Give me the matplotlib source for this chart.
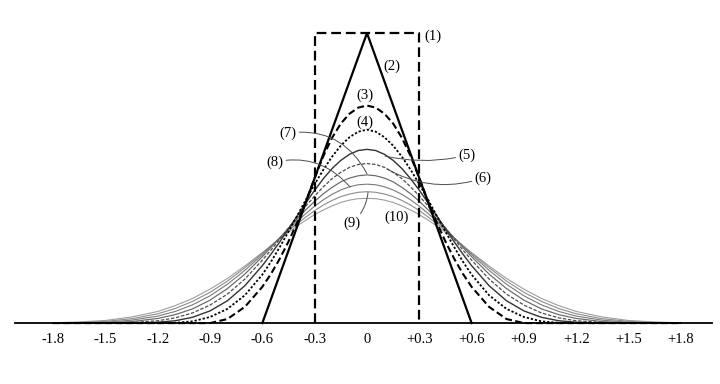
import numpy as np
import matplotlib
matplotlib.use("Agg")
import matplotlib.pyplot as plt

plt.rcParams['font.family'] = ['Liberation Serif', 'DejaVu Serif']
plt.rcParams['lines.scale_dashes'] = False

# half of each (symmetric) curve, x >= 0
x_half = [0.0, 0.05, 0.1, 0.15, 0.2, 0.25, 0.3, 0.35, 0.4, 0.45, 0.5, 0.55, 0.6,
          0.7, 0.8, 0.9, 1.0, 1.1, 1.2, 1.35, 1.5, 1.65, 1.8]
c3 = [0.750, 0.743, 0.722, 0.688, 0.639, 0.576, 0.500, 0.420, 0.347, 0.281, 0.222, 0.170, 0.125,
      0.056, 0.014, 0.0, 0.0, 0.0, 0.0, 0.0, 0.0, 0.0, 0.0]
c4 = [0.667, 0.660, 0.641, 0.612, 0.574, 0.529, 0.479, 0.426, 0.370, 0.315, 0.262, 0.212, 0.167,
      0.096, 0.049, 0.021, 0.006, 0.001, 0.0, 0.0, 0.0, 0.0, 0.0]
c5 = [0.599, 0.595, 0.582, 0.561, 0.533, 0.498, 0.458, 0.415, 0.370, 0.325, 0.280, 0.238, 0.198,
      0.129, 0.077, 0.042, 0.020, 0.008, 0.003, 0.0, 0.0, 0.0, 0.0]
c6 = [0.550, 0.547, 0.537, 0.520, 0.498, 0.470, 0.438, 0.404, 0.366, 0.328, 0.290, 0.252, 0.217,
      0.152, 0.100, 0.062, 0.035, 0.018, 0.008, 0.002, 0.0, 0.0, 0.0]
c7 = [0.511, 0.508, 0.500, 0.487, 0.468, 0.446, 0.420, 0.391, 0.359, 0.327, 0.294, 0.261, 0.229,
      0.169, 0.119, 0.079, 0.049, 0.029, 0.016, 0.005, 0.001, 0.0, 0.0]
c8 = [0.479, 0.477, 0.470, 0.459, 0.444, 0.425, 0.403, 0.378, 0.351, 0.323, 0.294, 0.265, 0.236,
      0.182, 0.134, 0.094, 0.063, 0.040, 0.024, 0.010, 0.003, 0.001, 0.0]
c9 = [0.453, 0.451, 0.445, 0.436, 0.423, 0.407, 0.388, 0.366, 0.343, 0.318, 0.293, 0.267, 0.241,
      0.191, 0.145, 0.106, 0.075, 0.050, 0.032, 0.015, 0.006, 0.002, 0.001]
c10 = [0.430, 0.429, 0.424, 0.416, 0.404, 0.390, 0.374, 0.355, 0.335, 0.313, 0.290, 0.267, 0.243,
       0.197, 0.154, 0.117, 0.085, 0.060, 0.040, 0.021, 0.009, 0.004, 0.001]

# (1) rectangle and (2) triangle
rect_x = [-0.3, -0.3, 0.3, 0.3]
rect_y = [0.0, 1.0, 1.0, 0.0]
tri_x = [-0.6, 0.0, 0.6]
tri_y = [0.0, 1.0, 0.0]

tick_vals = [-1.8, -1.5, -1.2, -0.9, -0.6, -0.3, 0, 0.3, 0.6, 0.9, 1.2, 1.5, 1.8]
tick_text = ['-1.8', '-1.5', '-1.2', '-0.9', '-0.6', '-0.3', '0',
             '+0.3', '+0.6', '+0.9', '+1.2', '+1.5', '+1.8']

labels = ['(1)', '(2)', '(3)', '(4)', '(5)', '(6)', '(7)', '(8)', '(9)', '(10)']
label_xy = [(0.378, 0.99), (0.143, 0.886), (-0.011, 0.786), (-0.011, 0.693), (0.573, 0.579),
            (0.665, 0.500), (-0.453, 0.655), (-0.528, 0.555), (-0.086, 0.345), (0.172, 0.366)]
# leader targets on the curves (None = no leader)
leader_to = [None, None, None, None, (0.103, 0.576), (0.115, 0.531), (0.0, 0.515),
             (-0.097, 0.469), (0.006, 0.451), None]
leader_rad = [0, 0, 0, 0, -0.12, -0.22, -0.35, -0.3, 0.2, 0]


def mirror(v, sign=1):
    v = np.asarray(v, dtype=float)
    return np.concatenate([sign * v[:0:-1], v])


x = mirror(x_half, -1)
curves = [c3, c4, c5, c6, c7, c8, c9, c10]
styles = [dict(color='k', lw=1.5, dashes=(5, 2.5)),
          dict(color='k', lw=1.3, dashes=(1.6, 1.4)),
          dict(color='0.2', lw=1.0, ls='-'),
          dict(color='0.3', lw=0.9, dashes=(2.5, 1.2)),
          dict(color='0.4', lw=0.85, ls='-'),
          dict(color='0.48', lw=0.8, ls='-'),
          dict(color='0.55', lw=0.8, ls='-'),
          dict(color='0.62', lw=0.8, ls='-')]

fig = plt.figure(figsize=(7.2, 3.84), dpi=100)
ax = fig.add_axes([0, 0, 1, 1])

for y, st in zip(curves[::-1], styles[::-1]):
    ax.plot(x, mirror(y), **st)
ax.plot(tri_x, tri_y, color='k', lw=1.6)
ax.plot(rect_x, rect_y, color='k', lw=1.6, dashes=(7, 3.5))

for txt, (lx, ly), tgt, rad in zip(labels, label_xy, leader_to, leader_rad):
    if tgt is None:
        ax.text(lx, ly, txt, fontsize=10.5, ha='center', va='center')
    else:
        ax.annotate(txt, xy=tgt, xytext=(lx, ly), fontsize=10.5, ha='center', va='center',
                    arrowprops=dict(arrowstyle='-', color='0.3', lw=0.7, shrinkA=0, shrinkB=0,
                                    connectionstyle='arc3,rad=%g' % rad))

ax.set_xlim(-2.104, 2.024)
ax.set_ylim(-0.210, 1.114)
for s in ['top', 'left', 'right']:
    ax.spines[s].set_visible(False)
ax.spines['bottom'].set_position(('data', 0))
ax.spines['bottom'].set_bounds(-2.02, 1.98)
ax.spines['bottom'].set_linewidth(1.3)
ax.set_xticks(tick_vals, tick_text, fontsize=10.5)
ax.tick_params(axis='x', length=0, pad=7)
ax.set_yticks([])
ax.patch.set_visible(False)

fig.savefig('out.png', dpi=100)
